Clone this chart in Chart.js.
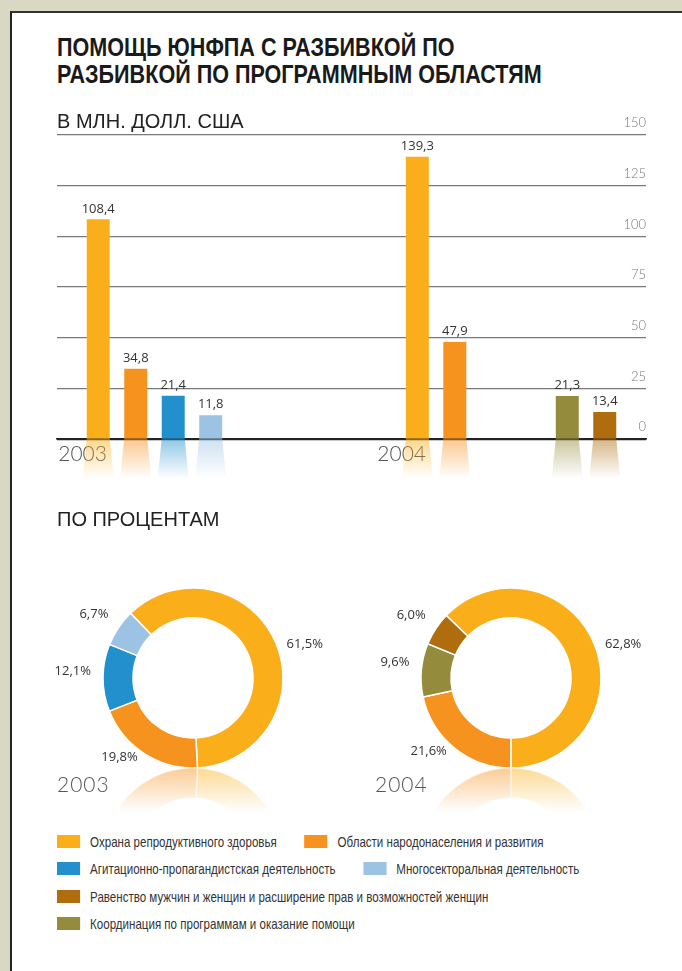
<!DOCTYPE html>
<html lang="ru">
<head>
  <meta charset="UTF-8">
  <title>Помощь ЮНФПА по программным областям</title>
  <script src="https://cdn.jsdelivr.net/npm/chart.js"></script>
  <style>
    body {
      margin: 0;
      width: 682px;
      height: 971px;
      overflow: hidden;
      background: #d9d9c3;
      position: relative;
      font-family: 'Liberation Sans', Arial, sans-serif;
      color: #222;
    }
    .panel {
      position: absolute;
      left: 10px; top: 11px; right: 0; bottom: 0;
      background: #fff;
      border-left: 2px solid #222;
      border-top: 2px solid #333;
    }
    .abs { position: absolute; z-index: 2; white-space: nowrap; }
    canvas { position: absolute; z-index: 1; }
    .title {
      left: 57px; top: 34px;
      font-weight: 700; font-size: 26px; line-height: 27px;
      color: #1a1a1a;
      transform: scaleX(0.83);
      transform-origin: left top;
    }
    .subhead { left: 57px; font-size: 20px; line-height: 24px; color: #222; }
    .year {
      font-family: Lato, 'Open Sans', sans-serif;
      font-weight: 300; font-size: 21px; line-height: 24px;
      color: #555; letter-spacing: 1px;
    }
    .legend {
      left: 57px; top: 828px;
      transform: scaleX(0.77);
      transform-origin: left top;
    }
    .legend .row { display: flex; align-items: center; height: 27.3px; }
    .legend .item { display: flex; align-items: center; margin-right: 36px; }
    .legend .sw { width: 30px; height: 13px; margin-right: 13px; }
    .legend span { font-size: 15px; color: #333; }
  </style>
</head>
<body>
  <div class="panel"></div>
  <div class="abs title">ПОМОЩЬ ЮНФПА С РАЗБИВКОЙ ПО<br>РАЗБИВКОЙ ПО ПРОГРАММНЫМ ОБЛАСТЯМ</div>
  <div class="abs subhead" style="top:109px">В МЛН. ДОЛЛ. США</div>
  <div class="abs subhead" style="top:507px">ПО ПРОЦЕНТАМ</div>

  <canvas id="bars" width="682" height="400" style="left:0;top:100px;width:682px;height:400px"></canvas>
  <canvas id="pie2003" width="340" height="300" style="left:23px;top:528px;width:340px;height:300px"></canvas>
  <canvas id="pie2004" width="340" height="300" style="left:341px;top:528px;width:340px;height:300px"></canvas>
  <div class="abs year" style="left:57px;top:772px">2003</div>
  <div class="abs year" style="left:375px;top:772px">2004</div>

  <div class="abs legend" id="legend"></div>

  <script>
    // data
    const years = [2003, 2004];
    const areas = [
      'Охрана репродуктивного здоровья',
      'Области народонаселения и развития',
      'Агитационно-пропагандистская деятельность',
      'Многосекторальная деятельность',
      'Координация по программам и оказание помощи',
      'Равенство мужчин и женщин и расширение прав и возможностей женщин'
    ];
    const areaColors = ['#F9AE1A', '#F6921E', '#2290CD', '#9DC3E4', '#958B3C', '#AF6D0E'];
    const funds2003 = [108.4, 34.8, 21.4, 11.8, null, null];
    const funds2004 = [139.3, 47.9, null, null, 21.3, 13.4];
    const yTicks = [0, 25, 50, 75, 100, 125, 150];

    const share2003Areas = [0, 1, 2, 3];
    const share2003 = [61.5, 19.8, 12.1, 6.7];
    const share2004Areas = [0, 1, 4, 5];
    const share2004 = [62.8, 21.6, 9.6, 6.0];

    const legendRows = [[0, 1], [2, 3], [5], [4]];

    Chart.defaults.font.family = "'Open Sans', sans-serif";
    Chart.defaults.color = '#333';

    const fmt = v => v.toFixed(1).replace('.', ',');

    function withAlpha(hex, a) {
      const n = parseInt(hex.slice(1), 16);
      return `rgba(${n >> 16 & 255},${n >> 8 & 255},${n & 255},${a})`;
    }

    // reflections under the bars + value labels
    const barDecor = {
      id: 'barDecor',
      afterDatasetsDraw(chart) {
        const ctx = chart.ctx;
        ctx.save();
        chart.data.datasets.forEach((ds, i) => {
          const meta = chart.getDatasetMeta(i);
          meta.data.forEach((bar, j) => {
            const v = ds.data[j];
            if (v == null) return;
            const { x, y, base, width } = bar.getProps(['x', 'y', 'base', 'width'], true);
            const h = 40, spread = 4;
            const g = ctx.createLinearGradient(0, base, 0, base + h);
            g.addColorStop(0, withAlpha(ds.backgroundColor, 0.5));
            g.addColorStop(1, withAlpha(ds.backgroundColor, 0));
            ctx.fillStyle = g;
            ctx.beginPath();
            ctx.moveTo(x - width / 2, base);
            ctx.lineTo(x + width / 2, base);
            ctx.lineTo(x + width / 2 + spread, base + h);
            ctx.lineTo(x - width / 2 - spread, base + h);
            ctx.closePath();
            ctx.fill();

            ctx.fillStyle = '#333';
            ctx.font = "13px 'Open Sans', sans-serif";
            ctx.textAlign = 'center';
            ctx.textBaseline = 'bottom';
            ctx.fillText(fmt(v), x, y - 4);
          });
        });
        ctx.restore();
      }
    };

    new Chart(document.getElementById('bars'), {
      type: 'bar',
      data: {
        labels: years,
        datasets: areas.map((name, i) => ({
          label: name,
          data: [funds2003[i], funds2004[i]],
          backgroundColor: areaColors[i],
          categoryPercentage: 0.705,
          barPercentage: 0.613
        }))
      },
      options: {
        responsive: false,
        animation: false,
        events: [],
        layout: { padding: { left: 57, right: 36, top: 35, bottom: 31.6 } },
        plugins: { legend: { display: false }, tooltip: { enabled: false } },
        scales: {
          x: {
            type: 'linear',
            min: years[0] - 0.423,
            max: years[1] + 0.423,
            offset: false,
            z: 1,
            afterBuildTicks: scale => { scale.ticks = years.map(v => ({ value: v })); },
            grid: { display: false, drawTicks: false },
            border: { display: true, color: '#222', width: 1.5 },
            ticks: {
              callback: v => String(v),
              align: 'end',
              labelOffset: -85,
              maxRotation: 0,
              padding: 2,
              color: '#555',
              font: { family: 'Lato, sans-serif', size: 21, weight: 300 }
            }
          },
          y: {
            position: 'right',
            min: 0,
            max: 150,
            afterBuildTicks: scale => { scale.ticks = yTicks.map(v => ({ value: v })); },
            grid: {
              drawTicks: false,
              color: c => (c.tick && c.tick.value === 0) ? '#222' : '#7a7a7a',
              lineWidth: 1.3
            },
            border: { display: false },
            ticks: {
              mirror: true,
              padding: 0,
              labelOffset: -12,
              color: '#777',
              font: { family: 'Lato, sans-serif', size: 13, weight: 300 }
            }
          }
        }
      },
      plugins: [barDecor]
    });

    // doughnut: mirrored fade under the ring + outside labels
    const ringDecor = {
      id: 'ringDecor',
      afterDatasetsDraw(chart) {
        const ctx = chart.ctx;
        const meta = chart.getDatasetMeta(0);
        const a0 = meta.data[0];
        const cx = a0.x, cy = a0.y, r = a0.outerRadius;
        const bottom = cy + r;
        const h = 44;
        ctx.save();
        ctx.beginPath();
        ctx.rect(cx - r - 4, bottom, 2 * r + 8, h);
        ctx.clip();
        ctx.translate(0, 2 * bottom);
        ctx.scale(1, -1);
        ctx.globalAlpha = 0.55;
        meta.data.forEach(a => a.draw(ctx));
        ctx.restore();
        const g = ctx.createLinearGradient(0, bottom, 0, bottom + h);
        g.addColorStop(0, 'rgba(255,255,255,0.15)');
        g.addColorStop(1, 'rgba(255,255,255,1)');
        ctx.fillStyle = g;
        ctx.fillRect(cx - r - 6, bottom + 1, 2 * r + 12, h);
      },
      afterDraw(chart) {
        const ctx = chart.ctx;
        const meta = chart.getDatasetMeta(0);
        const values = chart.data.datasets[0].data;
        ctx.save();
        ctx.fillStyle = '#333';
        ctx.font = "13px 'Open Sans', sans-serif";
        meta.data.forEach((arc, k) => {
          const mid = (arc.startAngle + arc.endAngle) / 2;
          const rr = arc.outerRadius + 12;
          const px = arc.x + rr * Math.cos(mid);
          const py = arc.y + rr * Math.sin(mid);
          const right = Math.cos(mid) >= 0;
          ctx.textAlign = right ? 'left' : 'right';
          ctx.textBaseline = right ? 'top' : 'bottom';
          ctx.fillText(fmt(values[k]) + '%', px, py);
        });
        ctx.restore();
      }
    };

    function ring(id, values, idx, rotation) {
      new Chart(document.getElementById(id), {
        type: 'doughnut',
        data: {
          labels: idx.map(i => areas[i]),
          datasets: [{
            data: values,
            backgroundColor: idx.map(i => areaColors[i]),
            borderColor: '#fff',
            borderWidth: 1.5
          }]
        },
        options: {
          responsive: false,
          animation: false,
          events: [],
          radius: 90,
          cutout: '66.7%',
          rotation: rotation,
          plugins: { legend: { display: false }, tooltip: { enabled: false } }
        },
        plugins: [ringDecor]
      });
    }

    ring('pie2003', share2003, share2003Areas, -44);
    ring('pie2004', share2004, share2004Areas, -46);

    // legend
    const legend = document.getElementById('legend');
    legendRows.forEach(row => {
      const r = document.createElement('div');
      r.className = 'row';
      row.forEach(i => {
        const it = document.createElement('div');
        it.className = 'item';
        it.innerHTML = `<div class="sw" style="background:${areaColors[i]}"></div><span>${areas[i]}</span>`;
        r.appendChild(it);
      });
      legend.appendChild(r);
    });
  </script>
</body>
</html>
